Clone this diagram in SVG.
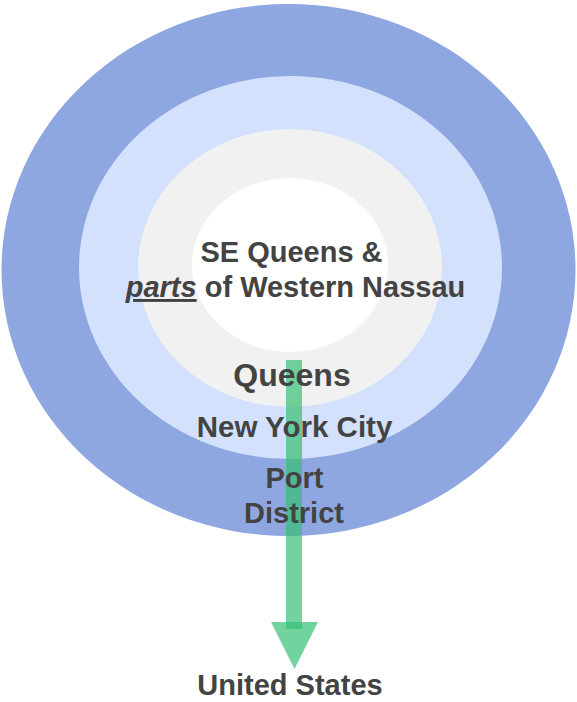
<svg xmlns="http://www.w3.org/2000/svg" width="577" height="702" viewBox="0 0 577 702">
  <style>
    text { font-family: "Liberation Sans", Arial, sans-serif; font-weight: bold; fill: #434343; text-anchor: middle; }
    .arrow { fill: #34c074; fill-opacity: 0.7; }
  </style>
  <rect width="577" height="702" fill="#ffffff"/>
  <g id="ring-port-district">
    <ellipse cx="288.5" cy="270" rx="287" ry="266" fill="#8fa7e0"/>
  </g>
  <g id="ring-new-york-city">
    <ellipse cx="290.5" cy="267.5" rx="211.5" ry="191.5" fill="#d3e1fc"/>
  </g>
  <g id="ring-queens">
    <ellipse cx="290" cy="268" rx="152" ry="139" fill="#f1f1f1"/>
  </g>
  <g id="core-se-queens">
    <ellipse cx="290" cy="265" rx="98" ry="87" fill="#ffffff"/>
  </g>
  <g id="connectors">
    <rect class="arrow" x="286" y="360" width="16" height="269"/>
    <polygon class="arrow" points="271,622 318,622 294.5,669"/>
  </g>
  <g id="labels">
    <text x="291.5" y="262" font-size="29">SE Queens &amp;</text>
    <text x="295.5" y="297" font-size="29"><tspan font-style="italic" text-decoration="underline">parts</tspan> of Western Nassau</text>
    <text x="292" y="386" font-size="32">Queens</text>
    <text x="294.5" y="437" font-size="29.5">New York City</text>
    <text x="294.5" y="488" font-size="29">Port</text>
    <text x="294" y="523" font-size="29">District</text>
    <text x="290" y="695" font-size="29">United States</text>
  </g>
</svg>
